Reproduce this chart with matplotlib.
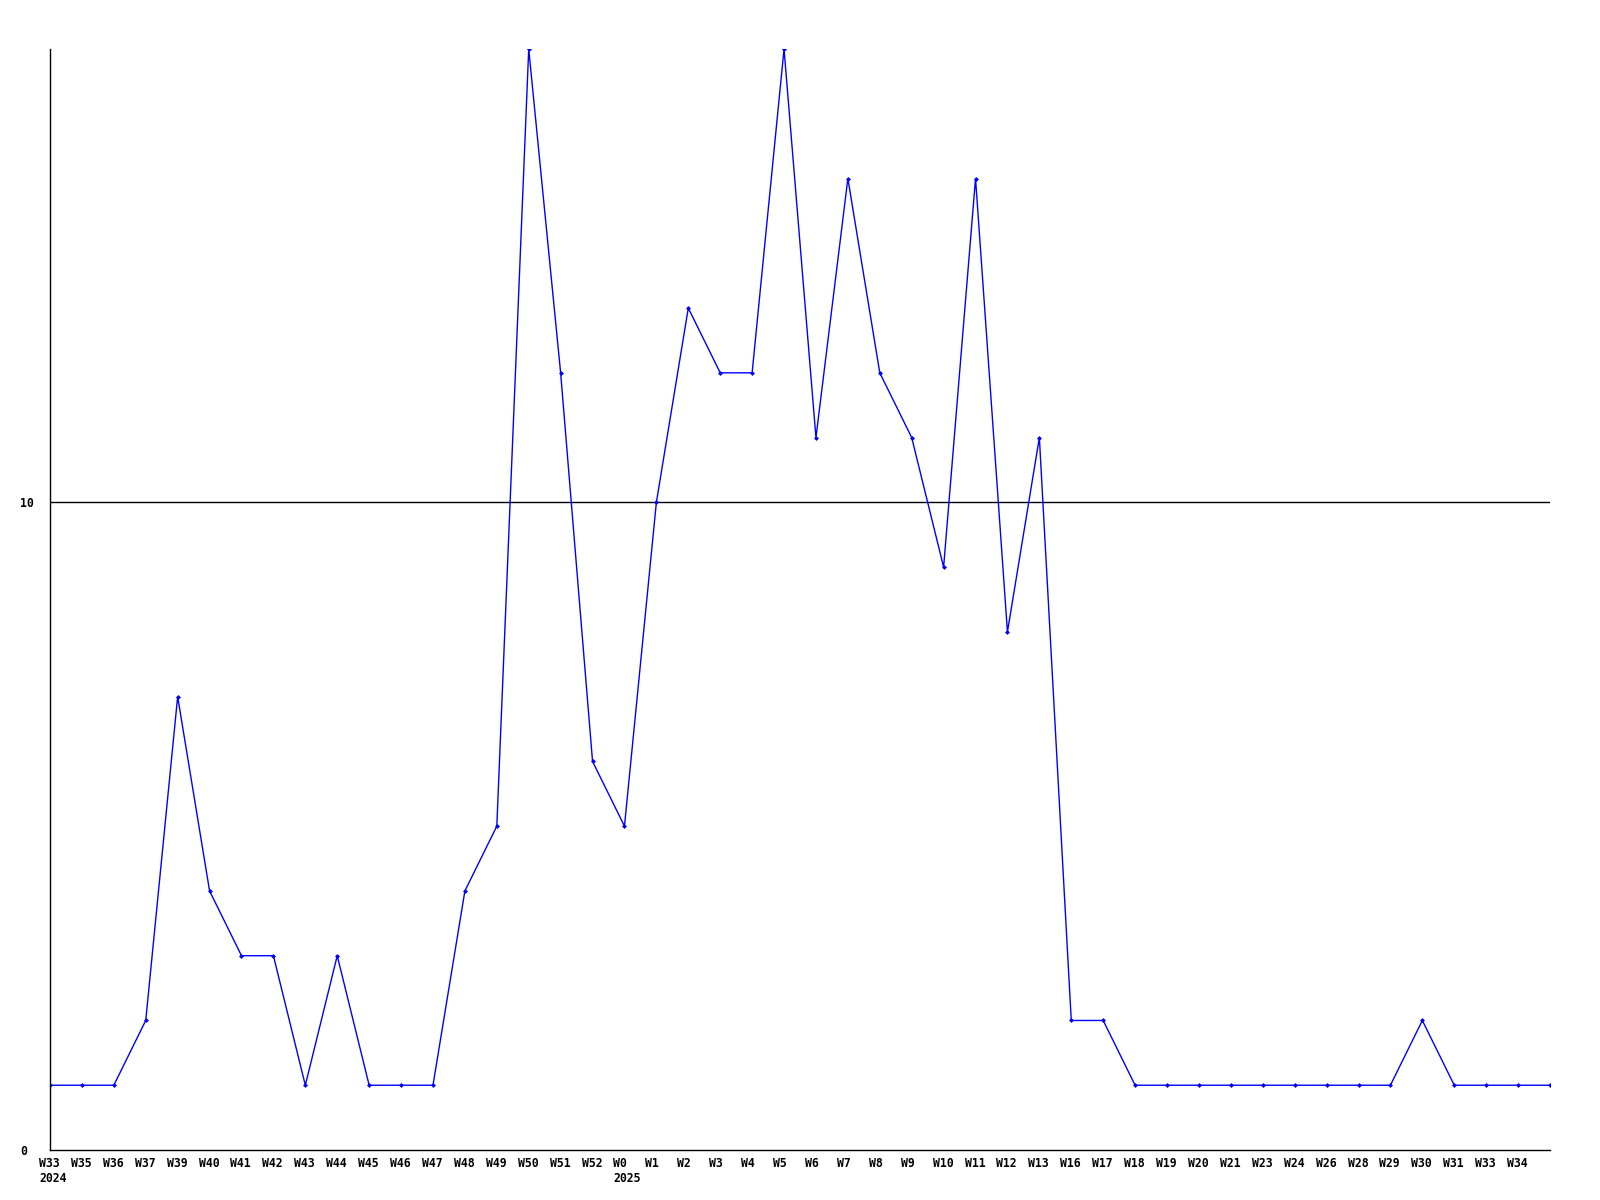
import matplotlib
matplotlib.use("Agg")
import matplotlib.pyplot as plt
from matplotlib.transforms import ScaledTranslation

weeks = ["W33\n2024", "W35", "W36", "W37", "W39", "W40", "W41", "W42", "W43", "W44",
         "W45", "W46", "W47", "W48", "W49", "W50", "W51", "W52", "W0\n2025", "W1",
         "W2", "W3", "W4", "W5", "W6", "W7", "W8", "W9", "W10", "W11",
         "W12", "W13", "W16", "W17", "W18", "W19", "W20", "W21", "W23", "W24",
         "W26", "W28", "W29", "W30", "W31", "W33", "W34", ""]
values = [1, 1, 1, 2, 7, 4, 3, 3, 1, 3,
          1, 1, 1, 4, 5, 17, 12, 6, 5, 10,
          13, 12, 12, 17, 11, 15, 12, 11, 9, 15,
          8, 11, 2, 2, 1, 1, 1, 1, 1, 1,
          1, 1, 1, 2, 1, 1, 1, 1]
yticks = [0, 10]

fig = plt.figure(figsize=(16, 12), dpi=100)
ax = fig.add_axes([50/1600, 1 - 1150/1200, 1500/1600, 1101/1200])
x = list(range(len(values)))
ax.plot(x, values, color="#0000ff", linewidth=1, marker="D", markersize=2.5,
        markeredgewidth=0)
ax.set_xlim(0, len(values) - 1)
ax.set_ylim(0, 17)
for s in ["top", "right"]:
    ax.spines[s].set_visible(False)
for s in ["left", "bottom"]:
    ax.spines[s].set_linewidth(1)
ax.axhline(10, color="black", linewidth=1, zorder=0)

font = dict(family="DejaVu Sans Mono", weight="bold", size=8.3)
ax.set_xticks(x)
ax.set_xticklabels(weeks, ha="left", ma="left", **font)
ax.set_yticks(yticks)
ax.set_yticklabels([str(v) for v in yticks], ha="left", **font)
ax.tick_params(axis="x", length=0, pad=5)
ax.tick_params(axis="y", length=0, pad=0)
for lab in ax.get_xticklabels():
    lab.set_transform(lab.get_transform() + ScaledTranslation(-11/100, 0, fig.dpi_scale_trans))
for lab in ax.get_yticklabels():
    lab.set_transform(lab.get_transform() + ScaledTranslation(-30/100, 0, fig.dpi_scale_trans))

fig.savefig("out.png", dpi=100, facecolor="white")
